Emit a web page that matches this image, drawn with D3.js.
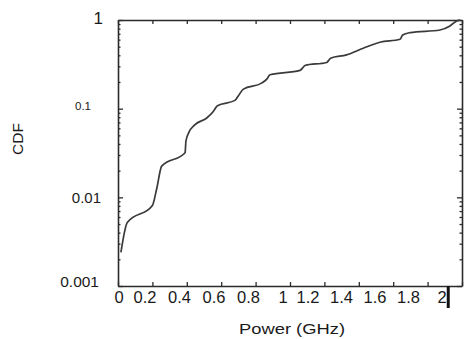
<!DOCTYPE html>
<html>
<head>
<meta charset="utf-8">
<script src="https://cdn.jsdelivr.net/npm/d3@7"></script>
<style>
  body { margin: 0; background: #fff; }
  text { font-family: "Liberation Sans", Arial, sans-serif; fill: #1a1a1a; }
</style>
</head>
<body>
<div id="vis"></div>
<script>
// CDF of power
const power = [0.017, 0.054, 0.20, 0.225, 0.254, 0.39, 0.395, 0.41, 0.448, 0.516, 0.554, 0.578,
  0.68, 0.70, 0.729, 0.835, 0.865, 0.884, 1.058, 1.075, 1.087, 1.213, 1.225, 1.236,
  1.329, 1.426, 1.523, 1.64, 1.655, 1.698, 1.872, 1.93, 1.969, 1.99]
const cdf = [0.00239, 0.0052, 0.0081, 0.0125, 0.0225, 0.0318, 0.043, 0.053, 0.066, 0.0785, 0.093, 0.108,
  0.124, 0.14, 0.166, 0.194, 0.215, 0.241, 0.27, 0.29, 0.307, 0.332, 0.35, 0.371,
  0.404, 0.481, 0.561, 0.607, 0.678, 0.72, 0.772, 0.857, 0.975, 1]

const xTicks = [0, 0.2, 0.4, 0.6, 0.8, 1, 1.2, 1.4, 1.6, 1.8, 2]
const xTickLabels = ['0', '0.2', '0.4', '0.6', '0.8', '1', '1.2', '1.4', '1.6', '1.8', '2']
const yTicks = [0.001, 0.01, 0.1, 1]
const yTickLabels = ['0.001', '0.01', '0.1', '1']

const width = 464, height = 339
const margin = {left: 118, top: 20, right: 2, bottom: 53}

// label styles (the source image has uneven label sizes)
const yLabelStyle = {
  '1': {size: 17, x: 103, dy: -2},
  '0.1': {size: 11.5, x: 91, dy: -3},
  '0.01': {size: 15, x: 101, dy: 0},
  '0.001': {size: 15.5, x: 99, dy: -5}
}

const svg = d3.select('#vis').append('svg')
  .attr('width', width)
  .attr('height', height)

const x = d3.scaleLinear([0, 2], [margin.left, width - margin.right])
const y = d3.scaleLog([0.001, 1], [height - margin.bottom, margin.top])

// tick labels are laid out like flowing text in the source, not under the ticks
const xLabel = d3.scaleLinear([0, 0.2, 1, 1.2, 2], [119, 145, 283, 308, 442])

const minorY = []
yTicks.slice(0, -1).forEach(d => {
  for (let k = 2; k <= 9; k++) minorY.push(d * k)
})

const axisColor = '#2b2b2b'

function styleAxis(g) {
  g.select('.domain').attr('stroke', axisColor).attr('stroke-width', 1.6)
  g.selectAll('.tick line').attr('stroke', axisColor).attr('stroke-width', 1.3)
  g.selectAll('.tick text').remove()
}

// bottom
svg.append('g')
  .attr('transform', `translate(0, ${y(0.001)})`)
  .call(d3.axisBottom(x).tickValues(xTicks).tickSize(-4).tickSizeOuter(0))
  .call(styleAxis)
// top
svg.append('g')
  .attr('transform', `translate(0, ${y(1)})`)
  .call(d3.axisTop(x).tickValues(xTicks).tickSize(-4).tickSizeOuter(0))
  .call(styleAxis)

// left + right, major and minor
;[[d3.axisLeft, x(0)], [d3.axisRight, x(2)]].forEach(([ax, pos]) => {
  svg.append('g')
    .attr('transform', `translate(${pos}, 0)`)
    .call(ax(y).tickValues(yTicks).tickSize(-5).tickSizeOuter(0))
    .call(styleAxis)
  svg.append('g')
    .attr('transform', `translate(${pos}, 0)`)
    .call(ax(y).tickValues(minorY).tickSize(-2.5).tickSizeOuter(0))
    .call(styleAxis)
    .call(g => g.select('.domain').remove())
})

// odd thick mark under the axis near 2
svg.append('line')
  .attr('x1', x(1.92)).attr('x2', x(1.92))
  .attr('y1', y(0.001)).attr('y2', y(0.001) + 22)
  .attr('stroke', '#111').attr('stroke-width', 3)

// x tick labels
svg.append('g').selectAll('text')
  .data(xTicks)
  .join('text')
    .attr('x', d => xLabel(d))
    .attr('y', 303)
    .attr('text-anchor', 'middle')
    .attr('font-size', 16.5)
    .text((d, i) => xTickLabels[i])

// y tick labels
svg.append('g').selectAll('text')
  .data(yTicks)
  .join('text')
    .attr('x', (d, i) => yLabelStyle[yTickLabels[i]].x)
    .attr('y', d => y(d))
    .attr('dy', (d, i) => yLabelStyle[yTickLabels[i]].dy)
    .attr('text-anchor', 'end')
    .attr('dominant-baseline', 'central')
    .attr('font-size', (d, i) => yLabelStyle[yTickLabels[i]].size)
    .text((d, i) => yTickLabels[i])

// axis titles
svg.append('text')
  .attr('transform', 'translate(23, 139) rotate(-90)')
  .attr('text-anchor', 'middle')
  .attr('font-size', 15.5)
  .text('CDF')

svg.append('text')
  .attr('x', 239)
  .attr('y', 334)
  .attr('font-size', 14.5)
  .attr('textLength', 106)
  .attr('lengthAdjust', 'spacingAndGlyphs')
  .text('Power (GHz)')

// the curve
const line = d3.line()
  .x(d => x(d[0]))
  .y(d => y(d[1]))
  .curve(d3.curveMonotoneX)

svg.append('path')
  .datum(power.map((p, i) => [p, cdf[i]]))
  .attr('fill', 'none')
  .attr('stroke', '#3a3a3a')
  .attr('stroke-width', 1.7)
  .attr('d', line)
</script>
</body>
</html>
